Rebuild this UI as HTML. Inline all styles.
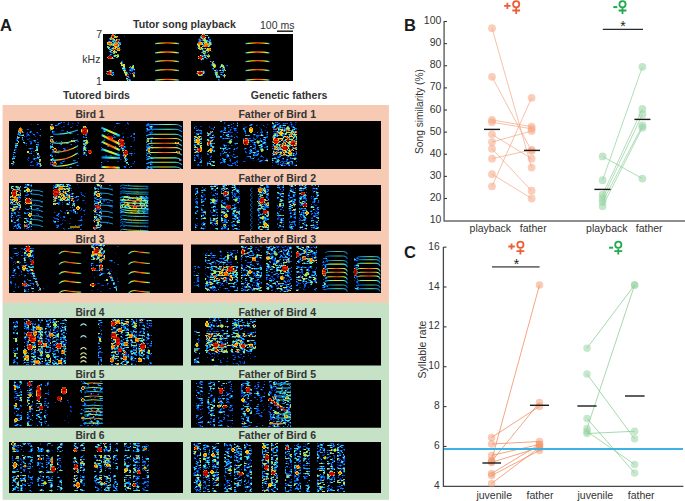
<!DOCTYPE html><html><head><meta charset="utf-8"><style>html,body{margin:0;padding:0;background:#fff;width:685px;height:501px;overflow:hidden}svg{display:block}text{font-family:"Liberation Sans", sans-serif}</style></head><body>
<svg width="685" height="501" viewBox="0 0 685 501">
<defs>
<filter id="spec" x="0" y="0" width="1" height="1" color-interpolation-filters="sRGB">
<feGaussianBlur in="SourceGraphic" stdDeviation="0.6" result="I"/>
<feTurbulence type="fractalNoise" baseFrequency="0.06 0.12" numOctaves="2" seed="7" result="m0"/>
<feColorMatrix in="m0" type="matrix" values="1 0 0 0 0 1 0 0 0 0 1 0 0 0 0 0 0 0 0 1" result="M"/>
<feComposite in="I" in2="M" operator="arithmetic" k1="1.2" k2="0.4" k3="0" k4="0" result="I2"/>
<feTurbulence type="fractalNoise" baseFrequency="0.3 0.6" numOctaves="2" seed="4" result="n0"/>
<feColorMatrix in="n0" type="matrix" values="1 0 0 0 0 1 0 0 0 0 1 0 0 0 0 0 0 0 0 1" result="N"/>
<feComposite in="I2" in2="N" operator="arithmetic" k1="3.62" k2="-0.941" k3="0" k4="-0.456" result="V"/>
<feColorMatrix in="V" type="matrix" values="1 0 0 0 0 0 1 0 0 0 0 0 1 0 0 0 0 0 0 1" result="V1"/>
<feComponentTransfer in="V1">
<feFuncR type="table" tableValues="0 0 0 0 0.0286 0.0643 0.1 0.279 0.457 0.633 0.8 0.967 1 1 0.986 0.95 0.914 0.842 0.744 0.647 0.55"/>
<feFuncG type="table" tableValues="0 0.18 0.303 0.425 0.544 0.662 0.78 0.851 0.923 0.972 0.93 0.888 0.753 0.595 0.436 0.275 0.114 0.0417 0.0278 0.0139 0"/>
<feFuncB type="table" tableValues="0 0.75 0.841 0.932 0.95 0.95 0.95 0.754 0.557 0.367 0.2 0.0333 0 0 0 0 0 0 0 0 0"/>
</feComponentTransfer>
<feGaussianBlur stdDeviation="0.65"/>
</filter>
<filter id="hot" x="0" y="0" width="1" height="1" color-interpolation-filters="sRGB">
<feGaussianBlur in="SourceGraphic" stdDeviation="0.7" result="I"/>
<feTurbulence type="fractalNoise" baseFrequency="0.3 0.6" numOctaves="2" seed="11" result="n0"/>
<feColorMatrix in="n0" type="matrix" values="1 0 0 0 0 1 0 0 0 0 1 0 0 0 0 0 0 0 0 1" result="N"/>
<feComposite in="I" in2="N" operator="arithmetic" k1="0.6" k2="0.656" k3="0" k4="-0.076" result="V"/>
<feColorMatrix in="V" type="matrix" values="1 0 0 0 0 0 1 0 0 0 0 0 1 0 0 5 0 0 0 -1.5" result="V1"/>
<feComponentTransfer in="V1">
<feFuncR type="table" tableValues="0 0 0 0 0.0286 0.0643 0.1 0.279 0.457 0.633 0.8 0.967 1 1 0.986 0.95 0.914 0.842 0.744 0.647 0.55"/>
<feFuncG type="table" tableValues="0 0.18 0.303 0.425 0.544 0.662 0.78 0.851 0.923 0.972 0.93 0.888 0.753 0.595 0.436 0.275 0.114 0.0417 0.0278 0.0139 0"/>
<feFuncB type="table" tableValues="0 0.75 0.841 0.932 0.95 0.95 0.95 0.754 0.557 0.367 0.2 0.0333 0 0 0 0 0 0 0 0 0"/>
</feComponentTransfer>
<feGaussianBlur stdDeviation="0.35"/>
</filter>
<filter id="soft" x="-10%" y="-10%" width="120%" height="120%"><feGaussianBlur stdDeviation="0.4"/></filter>
<linearGradient id="gl1"><stop offset="0" stop-color="#10a0ff"/><stop offset="0.12" stop-color="#b0ff50"/><stop offset="0.3" stop-color="#ffb000"/><stop offset="0.5" stop-color="#ff4a00"/><stop offset="0.7" stop-color="#ff9000"/><stop offset="0.88" stop-color="#d0ff40"/><stop offset="1" stop-color="#10a0ff"/></linearGradient>
<linearGradient id="gl2"><stop offset="0" stop-color="#0090ff"/><stop offset="0.2" stop-color="#50ffc0"/><stop offset="0.5" stop-color="#ffe000"/><stop offset="0.8" stop-color="#50ffc0"/><stop offset="1" stop-color="#0090ff"/></linearGradient>
<linearGradient id="gl3"><stop offset="0" stop-color="#0070ff"/><stop offset="0.3" stop-color="#10c8ff"/><stop offset="0.6" stop-color="#70ffb0"/><stop offset="1" stop-color="#0090ff"/></linearGradient>
</defs>

<rect x="2.6" y="105" width="386.3" height="197.9" fill="#f7cab4"/>
<rect x="2.6" y="302.9" width="386.4" height="196.9" fill="#c6e2c6"/>
<clipPath id="c0"><rect x="103" y="34" width="190" height="47"/></clipPath>
<g clip-path="url(#c0)">
<g filter="url(#spec)" fill="#fff"><rect x="103" y="34" width="190" height="47" fill="#000"/><rect x="105" y="34" width="22" height="47" fill-opacity="0.234"/><rect x="127" y="58" width="11" height="23" fill-opacity="0.234"/><ellipse cx="114" cy="44" rx="7" ry="10" fill-opacity="0.72"/><ellipse cx="113" cy="57" rx="5" ry="3" fill-opacity="0.55"/><path d="M121 61L129 81" fill="none" stroke="#fff" stroke-width="3.5" stroke-opacity="0.72"/><ellipse cx="132" cy="70" rx="3" ry="6" fill-opacity="0.62"/><ellipse cx="110" cy="73" rx="4" ry="3" fill-opacity="0.55"/><rect x="195.5" y="34" width="22" height="47" fill-opacity="0.234"/><rect x="217.5" y="58" width="11" height="23" fill-opacity="0.234"/><ellipse cx="204.5" cy="44" rx="7" ry="10" fill-opacity="0.72"/><ellipse cx="203.5" cy="57" rx="5" ry="3" fill-opacity="0.55"/><path d="M211.5 61L219.5 81" fill="none" stroke="#fff" stroke-width="3.5" stroke-opacity="0.72"/><ellipse cx="222.5" cy="70" rx="3" ry="6" fill-opacity="0.62"/><ellipse cx="200.5" cy="73" rx="4" ry="3" fill-opacity="0.55"/></g>
<g filter="url(#hot)" fill="#fff"><rect x="103" y="34" width="190" height="47" fill="#000"/><ellipse cx="113" cy="36.5" rx="1.8" ry="2.4" fill-opacity="1"/><ellipse cx="109.5" cy="43.5" rx="2.6" ry="2.2" fill-opacity="0.78"/><ellipse cx="116" cy="45" rx="2.8" ry="2.5" fill-opacity="0.78"/><ellipse cx="118.5" cy="49.5" rx="2.2" ry="2" fill-opacity="0.78"/><ellipse cx="110" cy="57.5" rx="2.8" ry="1.8" fill-opacity="1"/><ellipse cx="114" cy="52.5" rx="1.8" ry="2" fill-opacity="0.6"/><ellipse cx="109.5" cy="73" rx="3" ry="1.9" fill-opacity="1"/><ellipse cx="118" cy="56" rx="1.6" ry="2" fill-opacity="0.6"/><ellipse cx="114" cy="40" rx="1.8" ry="1.8" fill-opacity="0.6"/><ellipse cx="124" cy="66" rx="1.6" ry="2.4" fill-opacity="0.6"/><ellipse cx="126" cy="74" rx="1.5" ry="2.2" fill-opacity="0.6"/><ellipse cx="133" cy="67" rx="1.4" ry="2" fill-opacity="0.6"/><ellipse cx="134" cy="76" rx="1.4" ry="2" fill-opacity="0.6"/><ellipse cx="203.5" cy="36.5" rx="1.8" ry="2.4" fill-opacity="1"/><ellipse cx="200" cy="43.5" rx="2.6" ry="2.2" fill-opacity="0.78"/><ellipse cx="206.5" cy="45" rx="2.8" ry="2.5" fill-opacity="0.78"/><ellipse cx="209" cy="49.5" rx="2.2" ry="2" fill-opacity="0.78"/><ellipse cx="200.5" cy="57.5" rx="2.8" ry="1.8" fill-opacity="1"/><ellipse cx="204.5" cy="52.5" rx="1.8" ry="2" fill-opacity="0.6"/><ellipse cx="200" cy="73" rx="3" ry="1.9" fill-opacity="1"/><ellipse cx="208.5" cy="56" rx="1.6" ry="2" fill-opacity="0.6"/><ellipse cx="204.5" cy="40" rx="1.8" ry="1.8" fill-opacity="0.6"/><ellipse cx="214.5" cy="66" rx="1.6" ry="2.4" fill-opacity="0.6"/><ellipse cx="216.5" cy="74" rx="1.5" ry="2.2" fill-opacity="0.6"/><ellipse cx="223.5" cy="67" rx="1.4" ry="2" fill-opacity="0.6"/><ellipse cx="224.5" cy="76" rx="1.4" ry="2" fill-opacity="0.6"/></g>
<g filter="url(#soft)"><path d="M155 43.7Q167 41.9 179 43.7" fill="none" stroke="url(#gl1)" stroke-width="1.28"/><path d="M155 52.9Q167 51.1 179 52.9" fill="none" stroke="url(#gl1)" stroke-width="1.28"/><path d="M155 61.6Q167 59.8 179 61.6" fill="none" stroke="url(#gl1)" stroke-width="1.28"/><path d="M155 70.6Q167 68.8 179 70.6" fill="none" stroke="url(#gl1)" stroke-width="1.28"/><path d="M155 80.2Q167 78.4 179 80.2" fill="none" stroke="url(#gl1)" stroke-width="1.28"/><path d="M245.5 43.7Q257.5 41.9 269.5 43.7" fill="none" stroke="url(#gl1)" stroke-width="1.28"/><path d="M245.5 52.9Q257.5 51.1 269.5 52.9" fill="none" stroke="url(#gl1)" stroke-width="1.28"/><path d="M245.5 61.6Q257.5 59.8 269.5 61.6" fill="none" stroke="url(#gl1)" stroke-width="1.28"/><path d="M245.5 70.6Q257.5 68.8 269.5 70.6" fill="none" stroke="url(#gl1)" stroke-width="1.28"/><path d="M245.5 80.2Q257.5 78.4 269.5 80.2" fill="none" stroke="url(#gl1)" stroke-width="1.28"/></g>
</g>
<clipPath id="c1"><rect x="9" y="121" width="174" height="48"/></clipPath>
<g clip-path="url(#c1)">
<g filter="url(#spec)" fill="#fff"><rect x="9" y="121" width="174" height="48" fill="#000"/><path d="M12 166L20.5 128L25 144" fill="none" stroke="#fff" stroke-width="3.5" stroke-opacity="0.6"/><rect x="26" y="124" width="15" height="44" fill-opacity="0.378"/><path d="M34 140L41 166" fill="none" stroke="#fff" stroke-width="2.5" stroke-opacity="0.65"/><rect x="50" y="122" width="29" height="46" fill-opacity="0.342"/><path d="M51.5 124V167" fill="none" stroke="#fff" stroke-width="3.5" stroke-opacity="0.65"/><path d="M85 126V156" fill="none" stroke="#fff" stroke-width="5" stroke-opacity="0.65"/><rect x="101" y="122" width="34" height="46" fill-opacity="0.342"/><path d="M121 140L128 166" fill="none" stroke="#fff" stroke-width="3" stroke-opacity="0.75"/><rect x="146" y="123" width="7" height="46" fill-opacity="0.45"/><rect x="153" y="123" width="30" height="46" fill-opacity="0.225"/></g>
<g filter="url(#hot)" fill="#fff"><rect x="9" y="121" width="174" height="48" fill="#000"/><ellipse cx="20.5" cy="130" rx="2.2" ry="2.8" fill-opacity="0.78"/><ellipse cx="28" cy="152" rx="1.8" ry="1.8" fill-opacity="0.6"/><ellipse cx="52" cy="128" rx="2" ry="2.4" fill-opacity="0.78"/><ellipse cx="53" cy="142" rx="1.8" ry="1.8" fill-opacity="0.78"/><ellipse cx="55" cy="150" rx="2" ry="1.8" fill-opacity="1"/><ellipse cx="55" cy="164" rx="2.2" ry="1.8" fill-opacity="1"/><ellipse cx="73" cy="141" rx="2" ry="1.5" fill-opacity="0.78"/><ellipse cx="84.5" cy="131" rx="3.2" ry="4" fill-opacity="1"/><ellipse cx="90" cy="152" rx="2.2" ry="2" fill-opacity="1"/><ellipse cx="87" cy="142" rx="1.8" ry="2.5" fill-opacity="0.6"/><ellipse cx="121.3" cy="143" rx="3.2" ry="4.2" fill-opacity="1"/><ellipse cx="126" cy="152.8" rx="2.2" ry="2.8" fill-opacity="1"/><ellipse cx="110" cy="138" rx="3" ry="2.2" fill-opacity="1"/><ellipse cx="177" cy="143" rx="1.8" ry="1.5" fill-opacity="1"/><ellipse cx="178" cy="152" rx="1.8" ry="1.5" fill-opacity="1"/><ellipse cx="180" cy="160" rx="1.5" ry="1.5" fill-opacity="0.78"/><ellipse cx="148" cy="140" rx="1.5" ry="2" fill-opacity="0.78"/><ellipse cx="149" cy="150" rx="1.5" ry="2" fill-opacity="0.78"/></g>
<g filter="url(#soft)"><path d="M53 134Q65 135 78 130" fill="none" stroke="url(#gl3)" stroke-width="1.08"/><path d="M53 143Q65 144 78 140" fill="none" stroke="url(#gl2)" stroke-width="1.08"/><path d="M53 152Q65 153 78 146" fill="none" stroke="url(#gl1)" stroke-width="1.08"/><path d="M53 160Q65 161 78 153" fill="none" stroke="url(#gl1)" stroke-width="1.08"/><path d="M53 166Q65 167 78 162" fill="none" stroke="url(#gl2)" stroke-width="1.08"/><path d="M101.6 127.9L120 135.7" fill="none" stroke="url(#gl2)" stroke-width="2.08"/><path d="M101.6 135L120 144.3" fill="none" stroke="url(#gl1)" stroke-width="2.08"/><path d="M101.6 141.6L120 150.2" fill="none" stroke="url(#gl1)" stroke-width="2.08"/><path d="M101.6 148.9L120 155.5" fill="none" stroke="url(#gl2)" stroke-width="2.08"/><path d="M101.6 157.4L120 158" fill="none" stroke="url(#gl3)" stroke-width="2.08"/><path d="M101.6 167L120 167.7" fill="none" stroke="url(#gl1)" stroke-width="2.08"/><path d="M146.5 126.5Q148 124.5 151 124.5L176 124.5Q179 124.5 182 127" fill="none" stroke="url(#gl3)" stroke-width="1.12"/><path d="M146.5 131.3Q148 129.3 151 129.3L176 129.3Q179 129.3 182 131.8" fill="none" stroke="url(#gl3)" stroke-width="1.12"/><path d="M146.5 136.2Q148 134.2 151 134.2L176 134.2Q179 134.2 182 136.7" fill="none" stroke="url(#gl2)" stroke-width="1.12"/><path d="M146.5 140.5Q148 138.5 151 138.5L176 138.5Q179 138.5 182 141" fill="none" stroke="url(#gl1)" stroke-width="1.12"/><path d="M146.5 145.3Q148 143.3 151 143.3L176 143.3Q179 143.3 182 145.8" fill="none" stroke="url(#gl1)" stroke-width="1.12"/><path d="M146.5 149.6Q148 147.6 151 147.6L176 147.6Q179 147.6 182 150.1" fill="none" stroke="url(#gl1)" stroke-width="1.12"/><path d="M146.5 154.5Q148 152.5 151 152.5L176 152.5Q179 152.5 182 155" fill="none" stroke="url(#gl1)" stroke-width="1.12"/><path d="M146.5 159.9Q148 157.9 151 157.9L176 157.9Q179 157.9 182 160.4" fill="none" stroke="url(#gl2)" stroke-width="1.12"/><path d="M146.5 164.2Q148 162.2 151 162.2L176 162.2Q179 162.2 182 164.7" fill="none" stroke="url(#gl2)" stroke-width="1.12"/><path d="M146.5 169Q148 167 151 167L176 167Q179 167 182 169.5" fill="none" stroke="url(#gl2)" stroke-width="1.12"/></g>
</g>
<clipPath id="c2"><rect x="191" y="121" width="190" height="48"/></clipPath>
<g clip-path="url(#c2)">
<g filter="url(#spec)" fill="#fff"><rect x="191" y="121" width="190" height="48" fill="#000"/><rect x="193.7" y="126" width="8.3" height="40" fill-opacity="0.45"/><rect x="194" y="136" width="8" height="17" fill-opacity="0.612"/><rect x="206.8" y="126" width="8.2" height="40" fill-opacity="0.495"/><path d="M207 136L214 130M207 146L214 139M207 153L214 146" fill="none" stroke="#fff" stroke-width="1.5" stroke-opacity="0.8"/><rect x="220" y="121" width="18" height="45" fill-opacity="0.432"/><rect x="243" y="124" width="25" height="38" fill-opacity="0.45"/><rect x="272" y="122" width="25" height="44" fill-opacity="0.495"/><rect x="273" y="128" width="24" height="28" fill-opacity="0.648"/></g>
<g filter="url(#hot)" fill="#fff"><rect x="191" y="121" width="190" height="48" fill="#000"/><ellipse cx="198" cy="141" rx="2" ry="3" fill-opacity="0.78"/><ellipse cx="199" cy="150" rx="2" ry="2.5" fill-opacity="1"/><ellipse cx="209" cy="143" rx="1.8" ry="2.2" fill-opacity="1"/><ellipse cx="211" cy="150" rx="1.8" ry="2.2" fill-opacity="0.78"/><ellipse cx="230" cy="142" rx="2" ry="2" fill-opacity="0.6"/><ellipse cx="246" cy="141.7" rx="2.8" ry="3.4" fill-opacity="1"/><ellipse cx="251" cy="130" rx="2" ry="3" fill-opacity="0.78"/><ellipse cx="258" cy="142" rx="2" ry="2" fill-opacity="0.6"/><ellipse cx="262" cy="150" rx="2" ry="2" fill-opacity="0.6"/><ellipse cx="276" cy="141" rx="3" ry="3" fill-opacity="1"/><ellipse cx="285" cy="148" rx="3" ry="2.8" fill-opacity="1"/><ellipse cx="293" cy="143" rx="2.5" ry="2.5" fill-opacity="1"/><ellipse cx="281" cy="133" rx="2" ry="2" fill-opacity="0.78"/><ellipse cx="290" cy="153" rx="2" ry="2" fill-opacity="0.78"/><ellipse cx="288" cy="128" rx="2" ry="2" fill-opacity="0.6"/></g>
</g>
<clipPath id="c3"><rect x="9" y="183" width="174" height="48"/></clipPath>
<g clip-path="url(#c3)">
<g filter="url(#spec)" fill="#fff"><rect x="9" y="183" width="174" height="48" fill="#000"/><rect x="10.5" y="185" width="10.5" height="44" fill-opacity="0.468"/><rect x="10.5" y="186" width="10.5" height="24" fill-opacity="0.648"/><rect x="24" y="184" width="8" height="46" fill-opacity="0.54"/><rect x="31" y="186" width="12" height="42" fill-opacity="0.27"/><rect x="53" y="184" width="17" height="21" fill-opacity="0.585"/><rect x="53" y="184" width="33" height="46" fill-opacity="0.342"/><path d="M70 185L75 215" fill="none" stroke="#fff" stroke-width="2.5" stroke-opacity="0.75"/><rect x="93.5" y="184" width="8" height="46" fill-opacity="0.63"/><rect x="100" y="185" width="13" height="41" fill-opacity="0.27"/><rect x="120" y="184" width="28.5" height="47" fill-opacity="0.27"/><rect x="120" y="196" width="28.5" height="17" fill-opacity="0.405"/></g>
<g filter="url(#hot)" fill="#fff"><rect x="9" y="183" width="174" height="48" fill="#000"/><ellipse cx="14.2" cy="193" rx="2.4" ry="3.6" fill-opacity="1"/><ellipse cx="16" cy="199" rx="2.2" ry="2.2" fill-opacity="0.78"/><ellipse cx="28" cy="201" rx="3" ry="3" fill-opacity="1"/><ellipse cx="28" cy="190" rx="2" ry="2" fill-opacity="0.78"/><ellipse cx="30" cy="215" rx="2" ry="2" fill-opacity="0.78"/><ellipse cx="26" cy="226" rx="2.5" ry="1.5" fill-opacity="0.78"/><ellipse cx="13" cy="210" rx="1.8" ry="2" fill-opacity="0.6"/><ellipse cx="56" cy="192.5" rx="3.3" ry="4" fill-opacity="1"/><ellipse cx="61" cy="188" rx="2.5" ry="2.5" fill-opacity="0.78"/><ellipse cx="64" cy="198" rx="2" ry="2" fill-opacity="0.78"/><ellipse cx="78" cy="208" rx="2" ry="2" fill-opacity="0.78"/><ellipse cx="68" cy="213" rx="1.8" ry="1.8" fill-opacity="0.6"/><ellipse cx="97.9" cy="207" rx="3.2" ry="2.4" fill-opacity="1"/><ellipse cx="98" cy="195" rx="2" ry="2" fill-opacity="0.78"/><ellipse cx="98" cy="220" rx="1.8" ry="1.8" fill-opacity="0.78"/><ellipse cx="95" cy="228" rx="2" ry="1.5" fill-opacity="1"/><ellipse cx="126" cy="203" rx="2" ry="1.5" fill-opacity="1"/><ellipse cx="135" cy="207" rx="2" ry="1.5" fill-opacity="1"/><ellipse cx="140" cy="200" rx="2" ry="1.5" fill-opacity="0.78"/></g>
<g filter="url(#soft)"><path d="M31 190Q40 190 43 192" fill="none" stroke="#10a9f2" stroke-width="0.9"/><path d="M31 194Q40 194 43 196" fill="none" stroke="#10a9f2" stroke-width="0.9"/><path d="M31 200Q40 200 43 202" fill="none" stroke="#10a9f2" stroke-width="0.9"/><path d="M31 205Q40 205 43 207" fill="none" stroke="#10a9f2" stroke-width="0.9"/><path d="M31 209.6Q40 209.6 43 211.6" fill="none" stroke="#10a9f2" stroke-width="0.9"/><path d="M31 215.5Q40 215.5 43 217.5" fill="none" stroke="#10a9f2" stroke-width="0.9"/><path d="M31 219.4Q40 219.4 43 221.4" fill="none" stroke="#10a9f2" stroke-width="0.9"/><path d="M31 224.7Q40 224.7 43 226.7" fill="none" stroke="#10a9f2" stroke-width="0.9"/><path d="M70 227H80" fill="none" stroke="#ffc000" stroke-width="1.2"/><path d="M100 188Q109 188 113 190" fill="none" stroke="#10a9f2" stroke-width="0.9"/><path d="M100 193Q109 193 113 195" fill="none" stroke="#10a9f2" stroke-width="0.9"/><path d="M100 199Q109 199 113 201" fill="none" stroke="#10a9f2" stroke-width="0.9"/><path d="M100 205Q109 205 113 207" fill="none" stroke="#10a9f2" stroke-width="0.9"/><path d="M100 211Q109 211 113 213" fill="none" stroke="#10a9f2" stroke-width="0.9"/><path d="M100 216Q109 216 113 218" fill="none" stroke="#10a9f2" stroke-width="0.9"/><path d="M100 222Q109 222 113 224" fill="none" stroke="#10a9f2" stroke-width="0.9"/><path d="M120 186.3Q122 184.3 125 185.3T148.5 186.3" fill="none" stroke="url(#gl3)" stroke-width="0.8"/><path d="M120 188.9Q122 186.9 125 187.9T148.5 188.9" fill="none" stroke="url(#gl3)" stroke-width="0.8"/><path d="M120 192.2Q122 190.2 125 191.2T148.5 192.2" fill="none" stroke="url(#gl3)" stroke-width="0.8"/><path d="M120 194.1Q122 192.1 125 193.1T148.5 194.1" fill="none" stroke="url(#gl3)" stroke-width="0.8"/><path d="M120 198.1Q122 196.1 125 197.1T148.5 198.1" fill="none" stroke="url(#gl2)" stroke-width="1.2"/><path d="M120 200.7Q122 198.7 125 199.7T148.5 200.7" fill="none" stroke="url(#gl1)" stroke-width="1.2"/><path d="M120 203.3Q122 201.3 125 202.3T148.5 203.3" fill="none" stroke="url(#gl2)" stroke-width="1.2"/><path d="M120 206Q122 204 125 205T148.5 206" fill="none" stroke="url(#gl1)" stroke-width="1.2"/><path d="M120 208.6Q122 206.6 125 207.6T148.5 208.6" fill="none" stroke="url(#gl2)" stroke-width="1.2"/><path d="M120 211Q122 209 125 210T148.5 211" fill="none" stroke="url(#gl2)" stroke-width="1.04"/><path d="M120 213.2Q122 211.2 125 212.2T148.5 213.2" fill="none" stroke="url(#gl2)" stroke-width="1.04"/><path d="M120 216.5Q122 214.5 125 215.5T148.5 216.5" fill="none" stroke="url(#gl3)" stroke-width="0.88"/><path d="M120 220.4Q122 218.4 125 219.4T148.5 220.4" fill="none" stroke="url(#gl2)" stroke-width="0.96"/><path d="M120 223Q122 221 125 222T148.5 223" fill="none" stroke="url(#gl3)" stroke-width="0.8"/><path d="M120 226.3Q122 224.3 125 225.3T148.5 226.3" fill="none" stroke="url(#gl3)" stroke-width="0.8"/><path d="M120 230.5Q122 228.5 125 229.5T148.5 230.5" fill="none" stroke="url(#gl2)" stroke-width="0.8"/></g>
</g>
<clipPath id="c4"><rect x="191" y="185" width="190" height="46"/></clipPath>
<g clip-path="url(#c4)">
<g filter="url(#spec)" fill="#fff"><rect x="191" y="185" width="190" height="46" fill="#000"/><rect x="194.7" y="184" width="3.9" height="46" fill-opacity="0.45"/><rect x="200.5" y="184" width="5.8" height="46" fill-opacity="0.522"/><rect x="210" y="184" width="8" height="46" fill-opacity="0.558"/><rect x="220.8" y="184" width="8.6" height="46" fill-opacity="0.594"/><rect x="231.4" y="184" width="8.6" height="46" fill-opacity="0.558"/><rect x="257.4" y="184" width="11.6" height="46" fill-opacity="0.666"/><rect x="276.6" y="184" width="7.7" height="46" fill-opacity="0.522"/><rect x="288.2" y="184" width="7.8" height="46" fill-opacity="0.522"/><rect x="298.8" y="184" width="8.7" height="46" fill-opacity="0.576"/><rect x="310.3" y="184" width="8.7" height="46" fill-opacity="0.522"/><ellipse cx="243.5" cy="201" rx="1.2" ry="1.5" fill-opacity="0.7"/></g>
<g filter="url(#hot)" fill="#fff"><rect x="191" y="185" width="190" height="46" fill="#000"/><ellipse cx="225.6" cy="193.5" rx="2.4" ry="2.2" fill-opacity="1"/><ellipse cx="228.5" cy="207" rx="2.6" ry="2.2" fill-opacity="1"/><ellipse cx="226" cy="216" rx="2" ry="2" fill-opacity="0.78"/><ellipse cx="236" cy="200" rx="2" ry="2" fill-opacity="0.6"/><ellipse cx="262" cy="200" rx="2.5" ry="3" fill-opacity="1"/><ellipse cx="265" cy="212" rx="2.5" ry="2.5" fill-opacity="1"/><ellipse cx="260" cy="190" rx="2.2" ry="2.2" fill-opacity="0.78"/><ellipse cx="266" cy="225" rx="2" ry="2" fill-opacity="0.78"/><ellipse cx="263" cy="218" rx="2" ry="2" fill-opacity="0.6"/><ellipse cx="303" cy="193.5" rx="2.2" ry="2" fill-opacity="1"/><ellipse cx="305" cy="205" rx="2.2" ry="2.2" fill-opacity="1"/><ellipse cx="307" cy="213" rx="2" ry="2" fill-opacity="0.78"/><ellipse cx="213" cy="200" rx="2" ry="2" fill-opacity="0.6"/><ellipse cx="280" cy="205" rx="1.8" ry="2" fill-opacity="0.6"/></g>
<g filter="url(#soft)"><path d="M252.5 188Q248 190 252.5 192" fill="none" stroke="#047ff2" stroke-width="0.7"/><path d="M252.5 193Q248 195 252.5 197" fill="none" stroke="#047ff2" stroke-width="0.7"/><path d="M252.5 198Q248 200 252.5 202" fill="none" stroke="#047ff2" stroke-width="0.7"/><path d="M252.5 203Q248 205 252.5 207" fill="none" stroke="#047ff2" stroke-width="0.7"/><path d="M252.5 208Q248 210 252.5 212" fill="none" stroke="#047ff2" stroke-width="0.7"/><path d="M252.5 213Q248 215 252.5 217" fill="none" stroke="#047ff2" stroke-width="0.7"/><path d="M252.5 218Q248 220 252.5 222" fill="none" stroke="#047ff2" stroke-width="0.7"/><path d="M252.5 223Q248 225 252.5 227" fill="none" stroke="#047ff2" stroke-width="0.7"/><path d="M252.5 228Q248 230 252.5 232" fill="none" stroke="#047ff2" stroke-width="0.7"/></g>
</g>
<clipPath id="c5"><rect x="9" y="244.5" width="174" height="48.5"/></clipPath>
<g clip-path="url(#c5)">
<g filter="url(#spec)" fill="#fff"><rect x="9" y="244.5" width="174" height="48.5" fill="#000"/><rect x="10" y="248" width="13" height="44" fill-opacity="0.378"/><rect x="23.4" y="245" width="10.6" height="47" fill-opacity="0.495"/><path d="M32 270L40 291" fill="none" stroke="#fff" stroke-width="2.5" stroke-opacity="0.7"/><rect x="40" y="245" width="8" height="47" fill-opacity="0.225"/><rect x="91" y="243" width="14" height="17" fill-opacity="0.612"/><rect x="91" y="243" width="28" height="49" fill-opacity="0.315"/><path d="M101 258V276" fill="none" stroke="#fff" stroke-width="3" stroke-opacity="0.75"/><path d="M107 268L117 290" fill="none" stroke="#fff" stroke-width="2" stroke-opacity="0.6"/><rect x="58.9" y="247" width="22.3" height="46" fill-opacity="0.198"/><rect x="128.4" y="247" width="21.6" height="46" fill-opacity="0.198"/></g>
<g filter="url(#hot)" fill="#fff"><rect x="9" y="244.5" width="174" height="48.5" fill="#000"/><ellipse cx="28" cy="249" rx="2.4" ry="3.2" fill-opacity="1"/><ellipse cx="29" cy="255" rx="2" ry="2" fill-opacity="0.78"/><ellipse cx="32.6" cy="262.7" rx="1.8" ry="2.8" fill-opacity="1"/><ellipse cx="24" cy="268" rx="1.8" ry="3.5" fill-opacity="0.78"/><ellipse cx="24.7" cy="284.4" rx="2.8" ry="1.8" fill-opacity="1"/><ellipse cx="18" cy="262" rx="2" ry="1.5" fill-opacity="0.6"/><ellipse cx="96.8" cy="250.2" rx="2.6" ry="3" fill-opacity="1"/><ellipse cx="94" cy="253" rx="2.5" ry="2.5" fill-opacity="0.78"/><ellipse cx="100" cy="255" rx="2.2" ry="2.2" fill-opacity="0.78"/><ellipse cx="101" cy="260" rx="1.8" ry="1.8" fill-opacity="0.78"/><ellipse cx="101" cy="266" rx="1.8" ry="2.5" fill-opacity="1"/><ellipse cx="93.5" cy="269.3" rx="2.8" ry="1.8" fill-opacity="1"/><ellipse cx="92.9" cy="285" rx="2.8" ry="1.8" fill-opacity="1"/><ellipse cx="107" cy="280" rx="1.5" ry="1.5" fill-opacity="0.6"/></g>
<g filter="url(#soft)"><path d="M58.9 254Q61.9 250.5 66.9 251.5T81.2 253" fill="none" stroke="url(#gl1)" stroke-width="1.16"/><path d="M58.9 264.5Q61.9 261 66.9 262T81.2 263.5" fill="none" stroke="url(#gl1)" stroke-width="1.16"/><path d="M58.9 274.4Q61.9 270.9 66.9 271.9T81.2 273.4" fill="none" stroke="url(#gl1)" stroke-width="1.16"/><path d="M58.9 283.6Q61.9 280.1 66.9 281.1T81.2 282.6" fill="none" stroke="url(#gl1)" stroke-width="1.16"/><path d="M58.9 293.2Q61.9 289.7 66.9 290.7T81.2 292.2" fill="none" stroke="url(#gl1)" stroke-width="1.16"/><path d="M128.4 254Q131.4 250.5 136.4 251.5T150 253" fill="none" stroke="url(#gl1)" stroke-width="1.16"/><path d="M128.4 264.5Q131.4 261 136.4 262T150 263.5" fill="none" stroke="url(#gl1)" stroke-width="1.16"/><path d="M128.4 274.4Q131.4 270.9 136.4 271.9T150 273.4" fill="none" stroke="url(#gl1)" stroke-width="1.16"/><path d="M128.4 283.6Q131.4 280.1 136.4 281.1T150 282.6" fill="none" stroke="url(#gl1)" stroke-width="1.16"/><path d="M128.4 293.2Q131.4 289.7 136.4 290.7T150 292.2" fill="none" stroke="url(#gl1)" stroke-width="1.16"/></g>
</g>
<clipPath id="c6"><rect x="191" y="244.5" width="190" height="48.5"/></clipPath>
<g clip-path="url(#c6)">
<g filter="url(#spec)" fill="#fff"><rect x="191" y="244.5" width="190" height="48.5" fill="#000"/><rect x="193.2" y="266" width="6.8" height="21" fill-opacity="0.405"/><rect x="205" y="250" width="33" height="15" fill-opacity="0.45"/><rect x="205" y="266" width="33" height="25" fill-opacity="0.558"/><rect x="210" y="266" width="28" height="14" fill-opacity="0.63"/><rect x="241" y="246" width="21.4" height="45" fill-opacity="0.54"/><rect x="266" y="246" width="26" height="46" fill-opacity="0.558"/><rect x="296" y="246" width="21" height="18" fill-opacity="0.54"/><rect x="296" y="266" width="21" height="25" fill-opacity="0.54"/><rect x="322.2" y="258" width="6" height="32" fill-opacity="0.45"/><rect x="353.5" y="258" width="6" height="32" fill-opacity="0.45"/></g>
<g filter="url(#hot)" fill="#fff"><rect x="191" y="244.5" width="190" height="48.5" fill="#000"/><ellipse cx="230.4" cy="269.3" rx="3.2" ry="3.2" fill-opacity="1"/><ellipse cx="226" cy="274" rx="2.5" ry="2.5" fill-opacity="0.78"/><ellipse cx="228" cy="257" rx="1.5" ry="3" fill-opacity="0.6"/><ellipse cx="236" cy="258" rx="1.5" ry="3" fill-opacity="0.6"/><ellipse cx="215" cy="272" rx="2" ry="2" fill-opacity="0.6"/><ellipse cx="243.1" cy="252.2" rx="1.8" ry="3.2" fill-opacity="1"/><ellipse cx="254" cy="259" rx="2.5" ry="2.5" fill-opacity="0.78"/><ellipse cx="250" cy="272" rx="2" ry="2" fill-opacity="0.78"/><ellipse cx="284.8" cy="268.5" rx="3.2" ry="3.2" fill-opacity="1"/><ellipse cx="268" cy="258" rx="2" ry="2.5" fill-opacity="0.78"/><ellipse cx="282" cy="278" rx="2.2" ry="2.2" fill-opacity="0.78"/><ellipse cx="276" cy="254" rx="2" ry="2" fill-opacity="0.6"/><ellipse cx="297.7" cy="254.4" rx="1.8" ry="3.2" fill-opacity="1"/><ellipse cx="304" cy="258" rx="2.2" ry="2.2" fill-opacity="0.78"/><ellipse cx="311" cy="260" rx="2.2" ry="2.2" fill-opacity="0.78"/><ellipse cx="306" cy="275" rx="2" ry="2" fill-opacity="0.6"/><ellipse cx="324.2" cy="272" rx="2" ry="4" fill-opacity="1"/><ellipse cx="355.5" cy="272" rx="2" ry="4" fill-opacity="1"/></g>
<g filter="url(#soft)"><path d="M325.2 252.9Q326.2 251.4 329.2 251.4L343.5 251.4Q346.5 251.4 347.5 254.4" fill="none" stroke="url(#gl3)" stroke-width="1.05" stroke-opacity="0.75"/><path d="M325.2 257.4Q326.2 255.9 329.2 255.9L343.5 255.9Q346.5 255.9 347.5 258.9" fill="none" stroke="url(#gl3)" stroke-width="1.05" stroke-opacity="0.75"/><path d="M325.2 261.9Q326.2 260.4 329.2 260.4L343.5 260.4Q346.5 260.4 347.5 263.4" fill="none" stroke="url(#gl3)" stroke-width="1.05" stroke-opacity="0.75"/><path d="M325.2 265.6Q326.2 264.1 329.2 264.1L343.5 264.1Q346.5 264.1 347.5 267.1" fill="none" stroke="url(#gl2)" stroke-width="1.05" stroke-opacity="1"/><path d="M325.2 270Q326.2 268.5 329.2 268.5L343.5 268.5Q346.5 268.5 347.5 271.5" fill="none" stroke="url(#gl1)" stroke-width="1.05" stroke-opacity="1"/><path d="M325.2 273.8Q326.2 272.3 329.2 272.3L343.5 272.3Q346.5 272.3 347.5 275.3" fill="none" stroke="url(#gl1)" stroke-width="1.05" stroke-opacity="1"/><path d="M325.2 278.2Q326.2 276.7 329.2 276.7L343.5 276.7Q346.5 276.7 347.5 279.7" fill="none" stroke="url(#gl1)" stroke-width="1.05" stroke-opacity="1"/><path d="M325.2 282Q326.2 280.5 329.2 280.5L343.5 280.5Q346.5 280.5 347.5 283.5" fill="none" stroke="url(#gl2)" stroke-width="1.05" stroke-opacity="1"/><path d="M325.2 286.4Q326.2 284.9 329.2 284.9L343.5 284.9Q346.5 284.9 347.5 287.9" fill="none" stroke="url(#gl3)" stroke-width="1.05" stroke-opacity="0.75"/><path d="M325.2 290.1Q326.2 288.6 329.2 288.6L343.5 288.6Q346.5 288.6 347.5 291.6" fill="none" stroke="url(#gl3)" stroke-width="1.05" stroke-opacity="0.75"/><path d="M356.5 258.1Q357.5 256.6 360.5 256.6L376.3 256.6Q379.3 256.6 380.3 259.6" fill="none" stroke="url(#gl3)" stroke-width="1.05" stroke-opacity="0.75"/><path d="M356.5 261.1Q357.5 259.6 360.5 259.6L376.3 259.6Q379.3 259.6 380.3 262.6" fill="none" stroke="url(#gl3)" stroke-width="1.05" stroke-opacity="0.75"/><path d="M356.5 264.8Q357.5 263.3 360.5 263.3L376.3 263.3Q379.3 263.3 380.3 266.3" fill="none" stroke="url(#gl2)" stroke-width="1.05" stroke-opacity="1"/><path d="M356.5 270Q357.5 268.5 360.5 268.5L376.3 268.5Q379.3 268.5 380.3 271.5" fill="none" stroke="url(#gl1)" stroke-width="1.05" stroke-opacity="1"/><path d="M356.5 273.8Q357.5 272.3 360.5 272.3L376.3 272.3Q379.3 272.3 380.3 275.3" fill="none" stroke="url(#gl1)" stroke-width="1.05" stroke-opacity="1"/><path d="M356.5 277.5Q357.5 276 360.5 276L376.3 276Q379.3 276 380.3 279" fill="none" stroke="url(#gl1)" stroke-width="1.05" stroke-opacity="1"/><path d="M356.5 282Q357.5 280.5 360.5 280.5L376.3 280.5Q379.3 280.5 380.3 283.5" fill="none" stroke="url(#gl2)" stroke-width="1.05" stroke-opacity="1"/><path d="M356.5 286.4Q357.5 284.9 360.5 284.9L376.3 284.9Q379.3 284.9 380.3 287.9" fill="none" stroke="url(#gl3)" stroke-width="1.05" stroke-opacity="0.75"/><path d="M356.5 290.1Q357.5 288.6 360.5 288.6L376.3 288.6Q379.3 288.6 380.3 291.6" fill="none" stroke="url(#gl3)" stroke-width="1.05" stroke-opacity="0.75"/></g>
</g>
<clipPath id="c7"><rect x="9" y="318" width="174" height="47.6"/></clipPath>
<g clip-path="url(#c7)">
<g filter="url(#spec)" fill="#fff"><rect x="9" y="318" width="174" height="47.6" fill="#000"/><rect x="12.9" y="320" width="5.2" height="45" fill-opacity="0.468"/><rect x="23.4" y="319" width="5.73333" height="46" fill-opacity="0.63"/><rect x="30.3333" y="319" width="5.73333" height="46" fill-opacity="0.63"/><rect x="37.2667" y="319" width="5.73333" height="46" fill-opacity="0.63"/><rect x="44.4" y="319" width="6.66667" height="46" fill-opacity="0.576"/><rect x="52.2667" y="319" width="6.66667" height="46" fill-opacity="0.576"/><rect x="60.1333" y="319" width="6.66667" height="46" fill-opacity="0.576"/><rect x="97.5" y="320" width="5.2" height="45" fill-opacity="0.468"/><rect x="110.6" y="319" width="8.6" height="46" fill-opacity="0.63"/><rect x="120.4" y="319" width="8.6" height="46" fill-opacity="0.63"/><rect x="130.3" y="319" width="6.95" height="46" fill-opacity="0.576"/><rect x="138.45" y="319" width="6.95" height="46" fill-opacity="0.576"/><rect x="146.1" y="320" width="6.6" height="45" fill-opacity="0.45"/></g>
<g filter="url(#hot)" fill="#fff"><rect x="9" y="318" width="174" height="47.6" fill="#000"/><ellipse cx="28.7" cy="322.9" rx="2.53" ry="2.53" fill-opacity="1"/><ellipse cx="29.3" cy="334.7" rx="2.99" ry="2.99" fill-opacity="1"/><ellipse cx="32.6" cy="339.3" rx="3.45" ry="3.45" fill-opacity="1"/><ellipse cx="30" cy="347" rx="2.875" ry="2.875" fill-opacity="1"/><ellipse cx="37" cy="362" rx="2.875" ry="2.3" fill-opacity="0.78"/><ellipse cx="38" cy="328" rx="2.3" ry="2.3" fill-opacity="0.78"/><ellipse cx="25" cy="352" rx="2.3" ry="2.3" fill-opacity="0.78"/><ellipse cx="58.9" cy="345.9" rx="2.99" ry="2.99" fill-opacity="1"/><ellipse cx="51" cy="335" rx="2.53" ry="2.53" fill-opacity="0.78"/><ellipse cx="60" cy="362" rx="2.53" ry="2.3" fill-opacity="0.78"/><ellipse cx="55" cy="325" rx="2.3" ry="2.3" fill-opacity="0.6"/><ellipse cx="63" cy="352" rx="2.3" ry="2.3" fill-opacity="0.78"/><ellipse cx="16" cy="340" rx="1.725" ry="2.3" fill-opacity="0.6"/><ellipse cx="15" cy="355" rx="1.725" ry="2.3" fill-opacity="0.6"/><ellipse cx="113.3" cy="323.5" rx="2.53" ry="2.99" fill-opacity="1"/><ellipse cx="113.9" cy="336" rx="2.99" ry="3.68" fill-opacity="1"/><ellipse cx="117.9" cy="341.3" rx="2.53" ry="4.6" fill-opacity="1"/><ellipse cx="120" cy="330" rx="2.3" ry="2.3" fill-opacity="0.78"/><ellipse cx="113" cy="347" rx="2.3" ry="2.3" fill-opacity="0.78"/><ellipse cx="120" cy="350" rx="2.53" ry="2.53" fill-opacity="1"/><ellipse cx="125" cy="358" rx="2.3" ry="2.3" fill-opacity="0.78"/><ellipse cx="142.8" cy="346.5" rx="2.99" ry="3.45" fill-opacity="1"/><ellipse cx="137" cy="340" rx="2.53" ry="2.53" fill-opacity="0.78"/><ellipse cx="135" cy="326" rx="2.3" ry="2.3" fill-opacity="0.6"/><ellipse cx="140" cy="360" rx="2.3" ry="2.3" fill-opacity="0.78"/><ellipse cx="100" cy="340" rx="1.725" ry="2.3" fill-opacity="0.6"/><ellipse cx="149" cy="352" rx="1.725" ry="2.3" fill-opacity="0.6"/><ellipse cx="35" cy="333" rx="2.3" ry="2.875" fill-opacity="0.78"/><ellipse cx="27" cy="357" rx="2.3" ry="2.3" fill-opacity="0.78"/><ellipse cx="45" cy="345" rx="2.3" ry="2.3" fill-opacity="0.78"/><ellipse cx="48" cy="356" rx="2.3" ry="2.3" fill-opacity="0.6"/><ellipse cx="40" cy="343" rx="2.3" ry="2.3" fill-opacity="1"/><ellipse cx="118" cy="322" rx="2.3" ry="2.3" fill-opacity="0.78"/><ellipse cx="126" cy="344" rx="2.3" ry="2.3" fill-opacity="0.78"/><ellipse cx="131" cy="336" rx="2.3" ry="2.3" fill-opacity="0.78"/><ellipse cx="112" cy="360" rx="2.3" ry="2.3" fill-opacity="0.78"/></g>
<g filter="url(#soft)"><path d="M80.5 325.7Q83.5 322 86.5 325.7" fill="none" stroke="#a0e0f0" stroke-width="1.1"/><path d="M80.5 337.5Q83.5 333.8 86.5 337.5" fill="none" stroke="#a0e0f0" stroke-width="1.1"/><path d="M80.5 349.4Q83.5 345.7 86.5 349.4" fill="none" stroke="#e0f0a0" stroke-width="1.1"/><path d="M80.5 354.6Q83.5 350.9 86.5 354.6" fill="none" stroke="#e0f0a0" stroke-width="1.1"/><path d="M80.5 358.5Q83.5 354.8 86.5 358.5" fill="none" stroke="#e0f0a0" stroke-width="1.1"/><path d="M80.5 362.5Q83.5 358.8 86.5 362.5" fill="none" stroke="#e0f0a0" stroke-width="1.1"/></g>
</g>
<clipPath id="c8"><rect x="191" y="318" width="190" height="47.6"/></clipPath>
<g clip-path="url(#c8)">
<g filter="url(#spec)" fill="#fff"><rect x="191" y="318" width="190" height="47.6" fill="#000"/><rect x="193.9" y="331" width="6.6" height="32" fill-opacity="0.45"/><rect x="205.7" y="318" width="22.3" height="14" fill-opacity="0.45"/><rect x="205.7" y="333" width="22.3" height="20" fill-opacity="0.612"/><rect x="205.7" y="353" width="22.3" height="13" fill-opacity="0.378"/><rect x="231.4" y="319" width="13.8" height="14" fill-opacity="0.495"/><rect x="231.4" y="333" width="13.8" height="20" fill-opacity="0.594"/><rect x="231.4" y="353" width="13.8" height="13" fill-opacity="0.36"/><rect x="246.5" y="319" width="9.8" height="16" fill-opacity="0.468"/><rect x="246.5" y="340" width="9.8" height="12" fill-opacity="0.495"/><rect x="246.5" y="353" width="9.8" height="13" fill-opacity="0.315"/><path d="M205 336H256" fill="none" stroke="#fff" stroke-width="2.2" stroke-opacity="0.75"/><path d="M205 345.5H256" fill="none" stroke="#fff" stroke-width="2.2" stroke-opacity="0.85"/><path d="M205 350.5H256" fill="none" stroke="#fff" stroke-width="2.2" stroke-opacity="0.72"/><path d="M205 326H256" fill="none" stroke="#fff" stroke-width="2.2" stroke-opacity="0.62"/></g>
<g filter="url(#hot)" fill="#fff"><rect x="191" y="318" width="190" height="47.6" fill="#000"/><ellipse cx="197" cy="345" rx="1.8" ry="2" fill-opacity="0.78"/><ellipse cx="196" cy="350" rx="1.8" ry="1.8" fill-opacity="0.78"/><ellipse cx="207" cy="324" rx="1.8" ry="3" fill-opacity="0.78"/><ellipse cx="210" cy="336" rx="2" ry="1.8" fill-opacity="1"/><ellipse cx="215.6" cy="345.2" rx="3.2" ry="2.6" fill-opacity="1"/><ellipse cx="222" cy="346" rx="2.2" ry="2" fill-opacity="1"/><ellipse cx="216" cy="350" rx="2" ry="1.8" fill-opacity="1"/><ellipse cx="243.2" cy="345.9" rx="2.6" ry="2.2" fill-opacity="1"/><ellipse cx="236" cy="345" rx="2.2" ry="2" fill-opacity="0.78"/><ellipse cx="238" cy="336" rx="2" ry="1.8" fill-opacity="0.78"/><ellipse cx="236" cy="325" rx="2" ry="2" fill-opacity="0.6"/><ellipse cx="251" cy="345" rx="2" ry="1.8" fill-opacity="0.78"/><ellipse cx="222" cy="326" rx="2" ry="2" fill-opacity="0.6"/><ellipse cx="213" cy="360" rx="1.8" ry="1.8" fill-opacity="0.6"/></g>
</g>
<clipPath id="c9"><rect x="9" y="380" width="174" height="47.7"/></clipPath>
<g clip-path="url(#c9)">
<g filter="url(#spec)" fill="#fff"><rect x="9" y="380" width="174" height="47.7" fill="#000"/><rect x="13.4" y="381" width="8.6" height="45" fill-opacity="0.495"/><rect x="26.5" y="381" width="6.9" height="45" fill-opacity="0.522"/><rect x="35.7" y="381" width="6.9" height="45" fill-opacity="0.468"/><rect x="43.3" y="381" width="6.1" height="45" fill-opacity="0.378"/><rect x="55" y="400" width="18" height="27" fill-opacity="0.27"/><rect x="80.1" y="381" width="23" height="45" fill-opacity="0.405"/></g>
<g filter="url(#hot)" fill="#fff"><rect x="9" y="380" width="174" height="47.7" fill="#000"/><ellipse cx="15" cy="388" rx="1.5" ry="2" fill-opacity="0.78"/><ellipse cx="16" cy="405" rx="1.5" ry="2" fill-opacity="0.78"/><ellipse cx="29.5" cy="383.9" rx="1.8" ry="2.8" fill-opacity="1"/><ellipse cx="30" cy="395" rx="1.8" ry="2.5" fill-opacity="0.78"/><ellipse cx="30" cy="408" rx="1.5" ry="2.5" fill-opacity="0.78"/><ellipse cx="38.7" cy="393" rx="2.4" ry="8.5" fill-opacity="1"/><ellipse cx="41" cy="407.7" rx="2.4" ry="2.4" fill-opacity="1"/><ellipse cx="39" cy="400" rx="1.5" ry="2" fill-opacity="0.78"/><ellipse cx="64" cy="390.8" rx="2.8" ry="3.8" fill-opacity="1"/><ellipse cx="59.4" cy="398.5" rx="2.4" ry="2.8" fill-opacity="1"/><ellipse cx="16" cy="420" rx="2" ry="2" fill-opacity="0.78"/><ellipse cx="83" cy="388" rx="1.8" ry="1.8" fill-opacity="1"/><ellipse cx="83" cy="400" rx="1.8" ry="1.8" fill-opacity="1"/><ellipse cx="83" cy="418" rx="1.8" ry="1.8" fill-opacity="0.78"/></g>
<g filter="url(#soft)"><path d="M84 383.6Q93 382.1 103 383.6" fill="none" stroke="url(#gl1)" stroke-width="0.92"/><path d="M84 388.2Q93 386.7 103 388.2" fill="none" stroke="url(#gl2)" stroke-width="0.92"/><path d="M84 392.1Q93 390.6 103 392.1" fill="none" stroke="url(#gl3)" stroke-width="0.92"/><path d="M84 396.7Q93 395.2 103 396.7" fill="none" stroke="url(#gl1)" stroke-width="0.92"/><path d="M84 400.5Q93 399 103 400.5" fill="none" stroke="url(#gl2)" stroke-width="0.92"/><path d="M84 405.9Q93 404.4 103 405.9" fill="none" stroke="url(#gl3)" stroke-width="0.92"/><path d="M84 408.9Q93 407.4 103 408.9" fill="none" stroke="url(#gl2)" stroke-width="0.92"/><path d="M84 412Q93 410.5 103 412" fill="none" stroke="url(#gl1)" stroke-width="0.92"/><path d="M84 415.1Q93 413.6 103 415.1" fill="none" stroke="url(#gl2)" stroke-width="0.92"/><path d="M84 418.9Q93 417.4 103 418.9" fill="none" stroke="url(#gl1)" stroke-width="0.92"/><path d="M84 423.5Q93 422 103 423.5" fill="none" stroke="url(#gl2)" stroke-width="0.92"/></g>
</g>
<clipPath id="c10"><rect x="191" y="380" width="190" height="47.7"/></clipPath>
<g clip-path="url(#c10)">
<g filter="url(#spec)" fill="#fff"><rect x="191" y="380" width="190" height="47.7" fill="#000"/><rect x="196" y="381" width="7.3" height="46" fill-opacity="0.45"/><rect x="207.3" y="381" width="8" height="46" fill-opacity="0.468"/><rect x="217.7" y="381" width="7.3" height="46" fill-opacity="0.495"/><rect x="225.7" y="381" width="7.3" height="46" fill-opacity="0.432"/><rect x="241" y="381" width="11.2" height="46" fill-opacity="0.495"/><rect x="253.8" y="381" width="11.2" height="46" fill-opacity="0.378"/><rect x="268.3" y="381" width="22.7" height="46" fill-opacity="0.54"/><path d="M268 394L278 400L289 405" fill="none" stroke="#fff" stroke-width="1.5" stroke-opacity="0.8"/></g>
<g filter="url(#hot)" fill="#fff"><rect x="191" y="380" width="190" height="47.7" fill="#000"/><ellipse cx="220.9" cy="390.7" rx="2.2" ry="3.2" fill-opacity="1"/><ellipse cx="224.9" cy="406.7" rx="2.8" ry="1.8" fill-opacity="1"/><ellipse cx="219" cy="406" rx="2" ry="1.8" fill-opacity="0.78"/><ellipse cx="212" cy="408" rx="1.8" ry="1.8" fill-opacity="0.6"/><ellipse cx="248.2" cy="389.8" rx="2.4" ry="3.2" fill-opacity="1"/><ellipse cx="243" cy="400" rx="2" ry="2" fill-opacity="0.78"/><ellipse cx="248" cy="410" rx="2" ry="2" fill-opacity="0.78"/><ellipse cx="270" cy="399.5" rx="2" ry="1.6" fill-opacity="1"/><ellipse cx="272.9" cy="401.6" rx="2" ry="1.6" fill-opacity="1"/><ellipse cx="275.8" cy="403.7" rx="2" ry="1.6" fill-opacity="1"/><ellipse cx="278.7" cy="405.8" rx="2" ry="1.6" fill-opacity="1"/><ellipse cx="281.6" cy="407.9" rx="2" ry="1.6" fill-opacity="1"/><ellipse cx="284.5" cy="410" rx="2" ry="1.6" fill-opacity="1"/><ellipse cx="277" cy="413" rx="2" ry="1.5" fill-opacity="0.78"/><ellipse cx="286" cy="416" rx="2" ry="1.5" fill-opacity="0.78"/><ellipse cx="287" cy="398" rx="2" ry="1.5" fill-opacity="0.78"/></g>
<g filter="url(#soft)"><path d="M276 384H291" fill="none" stroke="#47d9c0" stroke-width="0.9"/><path d="M276 388H291" fill="none" stroke="#47d9c0" stroke-width="0.9"/><path d="M276 392H291" fill="none" stroke="#47d9c0" stroke-width="0.9"/><path d="M276 396H291" fill="none" stroke="#47d9c0" stroke-width="0.9"/><path d="M276 400H291" fill="none" stroke="#47d9c0" stroke-width="0.9"/><path d="M276 414H291" fill="none" stroke="#47d9c0" stroke-width="0.9"/><path d="M276 418H291" fill="none" stroke="#47d9c0" stroke-width="0.9"/><path d="M269 423.6H283" fill="none" stroke="#ff8000" stroke-width="1.4"/></g>
</g>
<clipPath id="c11"><rect x="9" y="442" width="174" height="51"/></clipPath>
<g clip-path="url(#c11)">
<g filter="url(#spec)" fill="#fff"><rect x="9" y="442" width="174" height="51" fill="#000"/><rect x="11.6" y="443" width="7.9" height="9.5" fill-opacity="0.54"/><rect x="11.6" y="454.8" width="7.9" height="18.4" fill-opacity="0.585"/><rect x="11.6" y="475" width="7.9" height="16.6" fill-opacity="0.567"/><rect x="20.1" y="443" width="6" height="9.5" fill-opacity="0.468"/><rect x="27.3" y="443" width="6" height="9.5" fill-opacity="0.468"/><rect x="20.1" y="454.8" width="6" height="18.4" fill-opacity="0.513"/><rect x="27.3" y="454.8" width="6" height="18.4" fill-opacity="0.513"/><rect x="20.1" y="475" width="6" height="16.6" fill-opacity="0.495"/><rect x="27.3" y="475" width="6" height="16.6" fill-opacity="0.495"/><rect x="37.2" y="443" width="7.3" height="9.5" fill-opacity="0.513"/><rect x="45.7" y="443" width="7.3" height="9.5" fill-opacity="0.513"/><rect x="37.2" y="454.8" width="7.3" height="18.4" fill-opacity="0.558"/><rect x="45.7" y="454.8" width="7.3" height="18.4" fill-opacity="0.558"/><rect x="37.2" y="475" width="7.3" height="16.6" fill-opacity="0.54"/><rect x="45.7" y="475" width="7.3" height="16.6" fill-opacity="0.54"/><rect x="56.9" y="443" width="5.9" height="9.5" fill-opacity="0.468"/><rect x="56.9" y="454.8" width="5.9" height="18.4" fill-opacity="0.513"/><rect x="56.9" y="475" width="5.9" height="16.6" fill-opacity="0.495"/><rect x="73.3" y="443" width="5.35" height="9.5" fill-opacity="0.54"/><rect x="79.85" y="443" width="5.35" height="9.5" fill-opacity="0.54"/><rect x="73.3" y="454.8" width="5.35" height="18.4" fill-opacity="0.585"/><rect x="79.85" y="454.8" width="5.35" height="18.4" fill-opacity="0.585"/><rect x="73.3" y="475" width="5.35" height="16.6" fill-opacity="0.567"/><rect x="79.85" y="475" width="5.35" height="16.6" fill-opacity="0.567"/><rect x="94.2" y="443" width="7.95" height="9.5" fill-opacity="0.558"/><rect x="103.35" y="443" width="7.95" height="9.5" fill-opacity="0.558"/><rect x="94.2" y="454.8" width="7.95" height="18.4" fill-opacity="0.603"/><rect x="103.35" y="454.8" width="7.95" height="18.4" fill-opacity="0.603"/><rect x="94.2" y="475" width="7.95" height="16.6" fill-opacity="0.585"/><rect x="103.35" y="475" width="7.95" height="16.6" fill-opacity="0.585"/><rect x="112.6" y="443" width="5.3" height="9.5" fill-opacity="0.45"/><rect x="112.6" y="454.8" width="5.3" height="18.4" fill-opacity="0.495"/><rect x="112.6" y="475" width="5.3" height="16.6" fill-opacity="0.477"/><rect x="123.8" y="443" width="7.6" height="9.5" fill-opacity="0.54"/><rect x="132.6" y="443" width="7.6" height="9.5" fill-opacity="0.54"/><rect x="123.8" y="454.8" width="7.6" height="18.4" fill-opacity="0.585"/><rect x="132.6" y="454.8" width="7.6" height="18.4" fill-opacity="0.585"/><rect x="123.8" y="475" width="7.6" height="16.6" fill-opacity="0.567"/><rect x="132.6" y="475" width="7.6" height="16.6" fill-opacity="0.567"/><rect x="141.5" y="443" width="7.9" height="9.5" fill-opacity="0.468"/><rect x="141.5" y="454.8" width="7.9" height="18.4" fill-opacity="0.513"/><rect x="141.5" y="475" width="7.9" height="16.6" fill-opacity="0.495"/></g>
<g filter="url(#hot)" fill="#fff"><rect x="9" y="442" width="174" height="51" fill="#000"/><ellipse cx="13" cy="444" rx="1.8" ry="1.8" fill-opacity="1"/><ellipse cx="14" cy="449" rx="1.8" ry="1.8" fill-opacity="0.78"/><ellipse cx="15" cy="465" rx="2" ry="3" fill-opacity="0.78"/><ellipse cx="24" cy="458" rx="1.8" ry="1.8" fill-opacity="0.6"/><ellipse cx="25" cy="466" rx="1.8" ry="1.8" fill-opacity="0.78"/><ellipse cx="53" cy="469.2" rx="2.6" ry="3.2" fill-opacity="1"/><ellipse cx="52" cy="461" rx="1.5" ry="4" fill-opacity="0.78"/><ellipse cx="40" cy="459" rx="1.8" ry="1.5" fill-opacity="1"/><ellipse cx="45" cy="483" rx="2" ry="2" fill-opacity="0.6"/><ellipse cx="75.3" cy="450.2" rx="2" ry="2" fill-opacity="1"/><ellipse cx="76" cy="467" rx="2" ry="3.2" fill-opacity="1"/><ellipse cx="78" cy="485" rx="2.2" ry="3" fill-opacity="0.78"/><ellipse cx="99.5" cy="449.5" rx="2.8" ry="2.8" fill-opacity="1"/><ellipse cx="96" cy="466" rx="2" ry="2.5" fill-opacity="0.78"/><ellipse cx="108" cy="465" rx="2" ry="2.5" fill-opacity="0.78"/><ellipse cx="102" cy="484" rx="2" ry="2" fill-opacity="0.6"/><ellipse cx="126" cy="470" rx="2" ry="2" fill-opacity="0.78"/><ellipse cx="138.9" cy="471.9" rx="2.4" ry="2" fill-opacity="1"/><ellipse cx="134.3" cy="485" rx="2" ry="2" fill-opacity="1"/><ellipse cx="145" cy="449" rx="1.8" ry="1.8" fill-opacity="0.78"/><ellipse cx="145" cy="468" rx="1.8" ry="1.8" fill-opacity="0.78"/><ellipse cx="18" cy="484" rx="1.8" ry="2" fill-opacity="0.6"/></g>
<g filter="url(#soft)"><path d="M58 459H72" fill="none" stroke="#1ac7f2" stroke-width="0.8"/></g>
</g>
<clipPath id="c12"><rect x="191" y="442" width="190" height="51"/></clipPath>
<g clip-path="url(#c12)">
<g filter="url(#spec)" fill="#fff"><rect x="191" y="442" width="190" height="51" fill="#000"/><rect x="193.3" y="443" width="7.73333" height="49" fill-opacity="0.558"/><rect x="202.533" y="443" width="7.73333" height="49" fill-opacity="0.558"/><rect x="211.767" y="443" width="7.73333" height="49" fill-opacity="0.558"/><rect x="224.1" y="443" width="8.43333" height="49" fill-opacity="0.54"/><rect x="234.033" y="443" width="8.43333" height="49" fill-opacity="0.54"/><rect x="243.967" y="443" width="8.43333" height="49" fill-opacity="0.54"/><rect x="261.6" y="443" width="7.45" height="49" fill-opacity="0.63"/><rect x="270.55" y="443" width="7.45" height="49" fill-opacity="0.63"/><rect x="284.5" y="443" width="7.53333" height="49" fill-opacity="0.54"/><rect x="293.533" y="443" width="7.53333" height="49" fill-opacity="0.54"/><rect x="302.567" y="443" width="7.53333" height="49" fill-opacity="0.54"/><rect x="316.6" y="443" width="8.43333" height="49" fill-opacity="0.54"/><rect x="326.533" y="443" width="8.43333" height="49" fill-opacity="0.54"/><rect x="336.467" y="443" width="8.43333" height="49" fill-opacity="0.54"/></g>
<g filter="url(#hot)" fill="#fff"><rect x="191" y="442" width="190" height="51" fill="#000"/><ellipse cx="195.9" cy="448.2" rx="1.8" ry="2.2" fill-opacity="1"/><ellipse cx="205.7" cy="473.2" rx="2.8" ry="3.2" fill-opacity="1"/><ellipse cx="205" cy="455" rx="2" ry="2" fill-opacity="0.78"/><ellipse cx="213" cy="455" rx="2" ry="2" fill-opacity="0.78"/><ellipse cx="212" cy="472" rx="2" ry="2" fill-opacity="0.78"/><ellipse cx="200" cy="485" rx="2" ry="2" fill-opacity="0.6"/><ellipse cx="240.6" cy="473.8" rx="3.2" ry="1.8" fill-opacity="1"/><ellipse cx="247" cy="452" rx="2" ry="2" fill-opacity="0.78"/><ellipse cx="233" cy="450" rx="2" ry="2" fill-opacity="0.78"/><ellipse cx="230" cy="470" rx="2" ry="2" fill-opacity="0.6"/><ellipse cx="266.8" cy="457.4" rx="2.2" ry="3.2" fill-opacity="1"/><ellipse cx="266.2" cy="467.3" rx="2.2" ry="2.8" fill-opacity="1"/><ellipse cx="273" cy="473" rx="2.2" ry="2.2" fill-opacity="1"/><ellipse cx="270" cy="485" rx="2" ry="2.5" fill-opacity="0.78"/><ellipse cx="264" cy="447" rx="2" ry="2" fill-opacity="0.78"/><ellipse cx="287.1" cy="448.2" rx="1.8" ry="2.2" fill-opacity="1"/><ellipse cx="298" cy="467" rx="2.2" ry="2.2" fill-opacity="0.78"/><ellipse cx="297" cy="473" rx="2" ry="2" fill-opacity="0.78"/><ellipse cx="305" cy="455" rx="2" ry="2" fill-opacity="0.6"/><ellipse cx="331.8" cy="473.8" rx="3.2" ry="2.2" fill-opacity="1"/><ellipse cx="340" cy="473" rx="2" ry="2" fill-opacity="0.78"/><ellipse cx="325" cy="458" rx="2" ry="2" fill-opacity="0.6"/><ellipse cx="335" cy="450" rx="2" ry="2" fill-opacity="0.6"/></g>
</g>
<text x="0" y="31.4" font-size="16.5" font-weight="bold" text-anchor="start" fill="#1a1a1a">A</text>
<text x="404" y="31.3" font-size="16.5" font-weight="bold" text-anchor="start" fill="#1a1a1a">B</text>
<text x="404" y="258.2" font-size="16.5" font-weight="bold" text-anchor="start" fill="#1a1a1a">C</text>
<text x="184.5" y="28" font-size="10.6" font-weight="bold" text-anchor="middle" fill="#333">Tutor song playback</text>
<text x="277.2" y="28.8" font-size="10.5" font-weight="normal" text-anchor="middle" fill="#333">100 ms</text>
<path d="M277 31.2H293" stroke="#222" stroke-width="1.5"/>
<text x="102" y="38.3" font-size="10.5" font-weight="normal" text-anchor="end" fill="#333">7</text>
<text x="100.4" y="63.2" font-size="10.5" font-weight="normal" text-anchor="end" fill="#333">kHz</text>
<text x="101.8" y="85" font-size="10.5" font-weight="normal" text-anchor="end" fill="#333">1</text>
<text x="96.5" y="99.4" font-size="10.5" font-weight="bold" text-anchor="middle" fill="#333">Tutored birds</text>
<text x="289.1" y="99.4" font-size="10.5" font-weight="bold" text-anchor="middle" fill="#333">Genetic fathers</text>
<text x="90" y="117.6" font-size="10.3" font-weight="bold" text-anchor="middle" fill="#333">Bird 1</text>
<text x="277.2" y="117.6" font-size="10.5" font-weight="bold" text-anchor="middle" fill="#333">Father of Bird 1</text>
<text x="90" y="181.5" font-size="10.3" font-weight="bold" text-anchor="middle" fill="#333">Bird 2</text>
<text x="277.2" y="181.5" font-size="10.5" font-weight="bold" text-anchor="middle" fill="#333">Father of Bird 2</text>
<text x="90" y="243" font-size="10.3" font-weight="bold" text-anchor="middle" fill="#333">Bird 3</text>
<text x="277.2" y="243" font-size="10.5" font-weight="bold" text-anchor="middle" fill="#333">Father of Bird 3</text>
<text x="90" y="316" font-size="10.3" font-weight="bold" text-anchor="middle" fill="#333">Bird 4</text>
<text x="277.2" y="316" font-size="10.5" font-weight="bold" text-anchor="middle" fill="#333">Father of Bird 4</text>
<text x="90" y="378" font-size="10.3" font-weight="bold" text-anchor="middle" fill="#333">Bird 5</text>
<text x="277.2" y="378" font-size="10.5" font-weight="bold" text-anchor="middle" fill="#333">Father of Bird 5</text>
<text x="90" y="439.4" font-size="10.3" font-weight="bold" text-anchor="middle" fill="#333">Bird 6</text>
<text x="277.2" y="439.4" font-size="10.5" font-weight="bold" text-anchor="middle" fill="#333">Father of Bird 6</text>
<path d="M444.1 21V221.1H685" stroke="#6a6a6a" stroke-width="1.5" fill="none"/>
<text x="441.4" y="223.125" font-size="10.5" font-weight="normal" text-anchor="end" fill="#333">10</text>
<path d="M444 198.5H447" stroke="#3a3a3a" stroke-width="1.1"/>
<text x="441.4" y="201" font-size="10.5" font-weight="normal" text-anchor="end" fill="#333">20</text>
<path d="M444 176.375H447" stroke="#3a3a3a" stroke-width="1.1"/>
<text x="441.4" y="178.875" font-size="10.5" font-weight="normal" text-anchor="end" fill="#333">30</text>
<path d="M444 154.25H447" stroke="#3a3a3a" stroke-width="1.1"/>
<text x="441.4" y="156.75" font-size="10.5" font-weight="normal" text-anchor="end" fill="#333">40</text>
<path d="M444 132.125H447" stroke="#3a3a3a" stroke-width="1.1"/>
<text x="441.4" y="134.625" font-size="10.5" font-weight="normal" text-anchor="end" fill="#333">50</text>
<path d="M444 110H447" stroke="#3a3a3a" stroke-width="1.1"/>
<text x="441.4" y="112.5" font-size="10.5" font-weight="normal" text-anchor="end" fill="#333">60</text>
<path d="M444 87.875H447" stroke="#3a3a3a" stroke-width="1.1"/>
<text x="441.4" y="90.375" font-size="10.5" font-weight="normal" text-anchor="end" fill="#333">70</text>
<path d="M444 65.75H447" stroke="#3a3a3a" stroke-width="1.1"/>
<text x="441.4" y="68.25" font-size="10.5" font-weight="normal" text-anchor="end" fill="#333">80</text>
<path d="M444 43.625H447" stroke="#3a3a3a" stroke-width="1.1"/>
<text x="441.4" y="46.125" font-size="10.5" font-weight="normal" text-anchor="end" fill="#333">90</text>
<path d="M444 21.5H447" stroke="#3a3a3a" stroke-width="1.1"/>
<text x="441.4" y="24" font-size="10.5" font-weight="normal" text-anchor="end" fill="#333">100</text>
<text x="0" y="0" font-size="10.2" font-weight="normal" text-anchor="middle" fill="#333" transform="translate(422.5 111.5) rotate(-90)">Song similarity (%)</text>
<text x="490.3" y="231.8" font-size="10.5" font-weight="normal" text-anchor="middle" fill="#333">playback</text>
<text x="533.3" y="231.8" font-size="10.5" font-weight="normal" text-anchor="middle" fill="#333">father</text>
<text x="606.8" y="231.8" font-size="10.5" font-weight="normal" text-anchor="middle" fill="#333">playback</text>
<text x="649.2" y="231.8" font-size="10.5" font-weight="normal" text-anchor="middle" fill="#333">father</text>
<line x1="492" y1="28.1375" x2="531.6" y2="167.525" stroke="#f3a07a" stroke-opacity="0.65" stroke-width="1"/>
<line x1="492" y1="76.8125" x2="531.6" y2="150.931" stroke="#f3a07a" stroke-opacity="0.65" stroke-width="1"/>
<line x1="492" y1="119.956" x2="531.6" y2="126.594" stroke="#f3a07a" stroke-opacity="0.65" stroke-width="1"/>
<line x1="492" y1="122.169" x2="531.6" y2="128.806" stroke="#f3a07a" stroke-opacity="0.65" stroke-width="1"/>
<line x1="492" y1="134.337" x2="531.6" y2="158.675" stroke="#f3a07a" stroke-opacity="0.65" stroke-width="1"/>
<line x1="492" y1="142.081" x2="531.6" y2="131.019" stroke="#f3a07a" stroke-opacity="0.65" stroke-width="1"/>
<line x1="492" y1="148.719" x2="531.6" y2="190.756" stroke="#f3a07a" stroke-opacity="0.65" stroke-width="1"/>
<line x1="492" y1="158.675" x2="531.6" y2="149.825" stroke="#f3a07a" stroke-opacity="0.65" stroke-width="1"/>
<line x1="492" y1="174.162" x2="531.6" y2="198.5" stroke="#f3a07a" stroke-opacity="0.65" stroke-width="1"/>
<line x1="492" y1="186.331" x2="531.6" y2="97.8312" stroke="#f3a07a" stroke-opacity="0.65" stroke-width="1"/>
<circle cx="492" cy="28.1375" r="3.9" fill="#f5a683" fill-opacity="0.55"/>
<circle cx="531.6" cy="167.525" r="3.9" fill="#f5a683" fill-opacity="0.55"/>
<circle cx="492" cy="76.8125" r="3.9" fill="#f5a683" fill-opacity="0.55"/>
<circle cx="531.6" cy="150.931" r="3.9" fill="#f5a683" fill-opacity="0.55"/>
<circle cx="492" cy="119.956" r="3.9" fill="#f5a683" fill-opacity="0.55"/>
<circle cx="531.6" cy="126.594" r="3.9" fill="#f5a683" fill-opacity="0.55"/>
<circle cx="492" cy="122.169" r="3.9" fill="#f5a683" fill-opacity="0.55"/>
<circle cx="531.6" cy="128.806" r="3.9" fill="#f5a683" fill-opacity="0.55"/>
<circle cx="492" cy="134.337" r="3.9" fill="#f5a683" fill-opacity="0.55"/>
<circle cx="531.6" cy="158.675" r="3.9" fill="#f5a683" fill-opacity="0.55"/>
<circle cx="492" cy="142.081" r="3.9" fill="#f5a683" fill-opacity="0.55"/>
<circle cx="531.6" cy="131.019" r="3.9" fill="#f5a683" fill-opacity="0.55"/>
<circle cx="492" cy="148.719" r="3.9" fill="#f5a683" fill-opacity="0.55"/>
<circle cx="531.6" cy="190.756" r="3.9" fill="#f5a683" fill-opacity="0.55"/>
<circle cx="492" cy="158.675" r="3.9" fill="#f5a683" fill-opacity="0.55"/>
<circle cx="531.6" cy="149.825" r="3.9" fill="#f5a683" fill-opacity="0.55"/>
<circle cx="492" cy="174.162" r="3.9" fill="#f5a683" fill-opacity="0.55"/>
<circle cx="531.6" cy="198.5" r="3.9" fill="#f5a683" fill-opacity="0.55"/>
<circle cx="492" cy="186.331" r="3.9" fill="#f5a683" fill-opacity="0.55"/>
<circle cx="531.6" cy="97.8312" r="3.9" fill="#f5a683" fill-opacity="0.55"/>
<line x1="602.6" y1="156.463" x2="642.4" y2="178.588" stroke="#86cc92" stroke-opacity="0.65" stroke-width="1"/>
<line x1="602.6" y1="180.136" x2="642.4" y2="66.8562" stroke="#86cc92" stroke-opacity="0.65" stroke-width="1"/>
<line x1="602.6" y1="194.739" x2="642.4" y2="108.894" stroke="#86cc92" stroke-opacity="0.65" stroke-width="1"/>
<line x1="602.6" y1="198.5" x2="642.4" y2="114.425" stroke="#86cc92" stroke-opacity="0.65" stroke-width="1"/>
<line x1="602.6" y1="201.819" x2="642.4" y2="125.487" stroke="#86cc92" stroke-opacity="0.65" stroke-width="1"/>
<line x1="602.6" y1="206.244" x2="642.4" y2="127.7" stroke="#86cc92" stroke-opacity="0.65" stroke-width="1"/>
<circle cx="602.6" cy="156.463" r="3.9" fill="#94d3a0" fill-opacity="0.55"/>
<circle cx="642.4" cy="178.588" r="3.9" fill="#94d3a0" fill-opacity="0.55"/>
<circle cx="602.6" cy="180.136" r="3.9" fill="#94d3a0" fill-opacity="0.55"/>
<circle cx="642.4" cy="66.8562" r="3.9" fill="#94d3a0" fill-opacity="0.55"/>
<circle cx="602.6" cy="194.739" r="3.9" fill="#94d3a0" fill-opacity="0.55"/>
<circle cx="642.4" cy="108.894" r="3.9" fill="#94d3a0" fill-opacity="0.55"/>
<circle cx="602.6" cy="198.5" r="3.9" fill="#94d3a0" fill-opacity="0.55"/>
<circle cx="642.4" cy="114.425" r="3.9" fill="#94d3a0" fill-opacity="0.55"/>
<circle cx="602.6" cy="201.819" r="3.9" fill="#94d3a0" fill-opacity="0.55"/>
<circle cx="642.4" cy="125.487" r="3.9" fill="#94d3a0" fill-opacity="0.55"/>
<circle cx="602.6" cy="206.244" r="3.9" fill="#94d3a0" fill-opacity="0.55"/>
<circle cx="642.4" cy="127.7" r="3.9" fill="#94d3a0" fill-opacity="0.55"/>
<line x1="484" y1="129.4" x2="500" y2="129.4" stroke="#1a1a1a" stroke-width="1.4"/>
<line x1="524" y1="150.4" x2="540" y2="150.4" stroke="#1a1a1a" stroke-width="1.4"/>
<line x1="594.4" y1="189.4" x2="610.6" y2="189.4" stroke="#1a1a1a" stroke-width="1.4"/>
<line x1="634.4" y1="119.4" x2="650.4" y2="119.4" stroke="#1a1a1a" stroke-width="1.4"/>
<path d="M602.8 29.4H643" stroke="#2a2a2a" stroke-width="1.3"/>
<text x="623" y="30.6" font-size="14" font-weight="normal" text-anchor="middle" fill="#222">*</text>
<circle cx="516.2" cy="4.2" r="3.1" fill="none" stroke="#eb5e37" stroke-width="1.8"/>
<path d="M516.2 8.1V14M512.3 10.5H520.1" stroke="#eb5e37" stroke-width="1.8" fill="none"/>
<path d="M504.1 5.9H510.6M507.35 2.8V9" stroke="#eb5e37" stroke-width="1.8" fill="none"/>
<circle cx="622.5" cy="4.2" r="3.1" fill="none" stroke="#22a94f" stroke-width="1.8"/>
<path d="M622.5 8.1V14M618.6 10.5H626.4" stroke="#22a94f" stroke-width="1.8" fill="none"/>
<path d="M613.3 7.1H617.3" stroke="#22a94f" stroke-width="2" fill="none"/>
<path d="M443.4 247.1V486.3H683.4" stroke="#474747" stroke-width="1.3" fill="none"/>
<text x="439.6" y="488.9" font-size="10.2" font-weight="normal" text-anchor="end" fill="#333">4</text>
<path d="M443.4 446.44H446.5" stroke="#3a3a3a" stroke-width="1.1"/>
<text x="439.6" y="449.04" font-size="10.2" font-weight="normal" text-anchor="end" fill="#333">6</text>
<path d="M443.4 406.58H446.5" stroke="#3a3a3a" stroke-width="1.1"/>
<text x="439.6" y="409.18" font-size="10.2" font-weight="normal" text-anchor="end" fill="#333">8</text>
<path d="M443.4 366.72H446.5" stroke="#3a3a3a" stroke-width="1.1"/>
<text x="439.6" y="369.32" font-size="10.2" font-weight="normal" text-anchor="end" fill="#333">10</text>
<path d="M443.4 326.86H446.5" stroke="#3a3a3a" stroke-width="1.1"/>
<text x="439.6" y="329.46" font-size="10.2" font-weight="normal" text-anchor="end" fill="#333">12</text>
<path d="M443.4 287H446.5" stroke="#3a3a3a" stroke-width="1.1"/>
<text x="439.6" y="289.6" font-size="10.2" font-weight="normal" text-anchor="end" fill="#333">14</text>
<path d="M443.4 247.14H446.5" stroke="#3a3a3a" stroke-width="1.1"/>
<text x="439.6" y="249.74" font-size="10.2" font-weight="normal" text-anchor="end" fill="#333">16</text>
<text x="0" y="0" font-size="10.5" font-weight="normal" text-anchor="middle" fill="#333" transform="translate(425.8 349.5) rotate(-90)">Syllable rate</text>
<text x="494.2" y="498.8" font-size="10.5" font-weight="normal" text-anchor="middle" fill="#333">juvenile</text>
<text x="540" y="498.8" font-size="10.5" font-weight="normal" text-anchor="middle" fill="#333">father</text>
<text x="595.3" y="498.8" font-size="10.5" font-weight="normal" text-anchor="middle" fill="#333">juvenile</text>
<text x="641.2" y="498.8" font-size="10.5" font-weight="normal" text-anchor="middle" fill="#333">father</text>
<line x1="491.6" y1="437.471" x2="539.5" y2="406.381" stroke="#ef8050" stroke-opacity="0.7" stroke-width="1"/>
<line x1="491.6" y1="444.048" x2="539.5" y2="441.457" stroke="#ef8050" stroke-opacity="0.7" stroke-width="1"/>
<line x1="491.6" y1="455.409" x2="539.5" y2="444.447" stroke="#ef8050" stroke-opacity="0.7" stroke-width="1"/>
<line x1="491.6" y1="460.391" x2="539.5" y2="285.007" stroke="#ef8050" stroke-opacity="0.7" stroke-width="1"/>
<line x1="491.6" y1="461.387" x2="539.5" y2="402.395" stroke="#ef8050" stroke-opacity="0.7" stroke-width="1"/>
<line x1="491.6" y1="462.384" x2="539.5" y2="447.437" stroke="#ef8050" stroke-opacity="0.7" stroke-width="1"/>
<line x1="491.6" y1="473.545" x2="539.5" y2="444.447" stroke="#ef8050" stroke-opacity="0.7" stroke-width="1"/>
<line x1="491.6" y1="475.538" x2="539.5" y2="450.426" stroke="#ef8050" stroke-opacity="0.7" stroke-width="1"/>
<line x1="491.6" y1="483.51" x2="539.5" y2="447.437" stroke="#ef8050" stroke-opacity="0.7" stroke-width="1"/>
<circle cx="491.6" cy="437.471" r="3.75" fill="#f3956c" fill-opacity="0.5"/>
<circle cx="539.5" cy="406.381" r="3.75" fill="#f3956c" fill-opacity="0.5"/>
<circle cx="491.6" cy="444.048" r="3.75" fill="#f3956c" fill-opacity="0.5"/>
<circle cx="539.5" cy="441.457" r="3.75" fill="#f3956c" fill-opacity="0.5"/>
<circle cx="491.6" cy="455.409" r="3.75" fill="#f3956c" fill-opacity="0.5"/>
<circle cx="539.5" cy="444.447" r="3.75" fill="#f3956c" fill-opacity="0.5"/>
<circle cx="491.6" cy="460.391" r="3.75" fill="#f3956c" fill-opacity="0.5"/>
<circle cx="539.5" cy="285.007" r="3.75" fill="#f3956c" fill-opacity="0.5"/>
<circle cx="491.6" cy="461.387" r="3.75" fill="#f3956c" fill-opacity="0.5"/>
<circle cx="539.5" cy="402.395" r="3.75" fill="#f3956c" fill-opacity="0.5"/>
<circle cx="491.6" cy="462.384" r="3.75" fill="#f3956c" fill-opacity="0.5"/>
<circle cx="539.5" cy="447.437" r="3.75" fill="#f3956c" fill-opacity="0.5"/>
<circle cx="491.6" cy="473.545" r="3.75" fill="#f3956c" fill-opacity="0.5"/>
<circle cx="539.5" cy="444.447" r="3.75" fill="#f3956c" fill-opacity="0.5"/>
<circle cx="491.6" cy="475.538" r="3.75" fill="#f3956c" fill-opacity="0.5"/>
<circle cx="539.5" cy="450.426" r="3.75" fill="#f3956c" fill-opacity="0.5"/>
<circle cx="491.6" cy="483.51" r="3.75" fill="#f3956c" fill-opacity="0.5"/>
<circle cx="539.5" cy="447.437" r="3.75" fill="#f3956c" fill-opacity="0.5"/>
<line x1="587" y1="348.185" x2="634.6" y2="285.007" stroke="#80c98d" stroke-opacity="0.7" stroke-width="1"/>
<line x1="587" y1="428.503" x2="634.6" y2="285.007" stroke="#80c98d" stroke-opacity="0.7" stroke-width="1"/>
<line x1="587" y1="374.094" x2="634.6" y2="438.867" stroke="#80c98d" stroke-opacity="0.7" stroke-width="1"/>
<line x1="587" y1="418.538" x2="634.6" y2="472.947" stroke="#80c98d" stroke-opacity="0.7" stroke-width="1"/>
<line x1="587" y1="433.486" x2="634.6" y2="431.293" stroke="#80c98d" stroke-opacity="0.7" stroke-width="1"/>
<line x1="587" y1="431.493" x2="634.6" y2="464.377" stroke="#80c98d" stroke-opacity="0.7" stroke-width="1"/>
<circle cx="587" cy="348.185" r="3.75" fill="#8fd19b" fill-opacity="0.5"/>
<circle cx="634.6" cy="285.007" r="3.75" fill="#8fd19b" fill-opacity="0.5"/>
<circle cx="587" cy="428.503" r="3.75" fill="#8fd19b" fill-opacity="0.5"/>
<circle cx="634.6" cy="285.007" r="3.75" fill="#8fd19b" fill-opacity="0.5"/>
<circle cx="587" cy="374.094" r="3.75" fill="#8fd19b" fill-opacity="0.5"/>
<circle cx="634.6" cy="438.867" r="3.75" fill="#8fd19b" fill-opacity="0.5"/>
<circle cx="587" cy="418.538" r="3.75" fill="#8fd19b" fill-opacity="0.5"/>
<circle cx="634.6" cy="472.947" r="3.75" fill="#8fd19b" fill-opacity="0.5"/>
<circle cx="587" cy="433.486" r="3.75" fill="#8fd19b" fill-opacity="0.5"/>
<circle cx="634.6" cy="431.293" r="3.75" fill="#8fd19b" fill-opacity="0.5"/>
<circle cx="587" cy="431.493" r="3.75" fill="#8fd19b" fill-opacity="0.5"/>
<circle cx="634.6" cy="464.377" r="3.75" fill="#8fd19b" fill-opacity="0.5"/>
<path d="M444 449H683" stroke="#3bb3e4" stroke-width="1.8"/>
<line x1="482.4" y1="463" x2="501" y2="463" stroke="#1a1a1a" stroke-width="1.4"/>
<line x1="530" y1="405.3" x2="549" y2="405.3" stroke="#1a1a1a" stroke-width="1.4"/>
<line x1="577.4" y1="406" x2="596.6" y2="406" stroke="#1a1a1a" stroke-width="1.4"/>
<line x1="625" y1="396" x2="644.6" y2="396" stroke="#1a1a1a" stroke-width="1.4"/>
<path d="M492 266.9H539.6" stroke="#707070" stroke-width="1.6"/>
<text x="516.5" y="268.6" font-size="14" font-weight="normal" text-anchor="middle" fill="#222">*</text>
<circle cx="520.4" cy="244.8" r="3.1" fill="none" stroke="#eb5e37" stroke-width="1.8"/>
<path d="M520.4 248.7V254.6M516.5 251.1H524.3" stroke="#eb5e37" stroke-width="1.8" fill="none"/>
<path d="M508.3 246.5H514.8M511.55 243.4V249.6" stroke="#eb5e37" stroke-width="1.8" fill="none"/>
<circle cx="618.3" cy="244.8" r="3.1" fill="none" stroke="#22a94f" stroke-width="1.8"/>
<path d="M618.3 248.7V254.6M614.4 251.1H622.2" stroke="#22a94f" stroke-width="1.8" fill="none"/>
<path d="M609.1 247.7H613.1" stroke="#22a94f" stroke-width="2" fill="none"/>
</svg></body></html>
